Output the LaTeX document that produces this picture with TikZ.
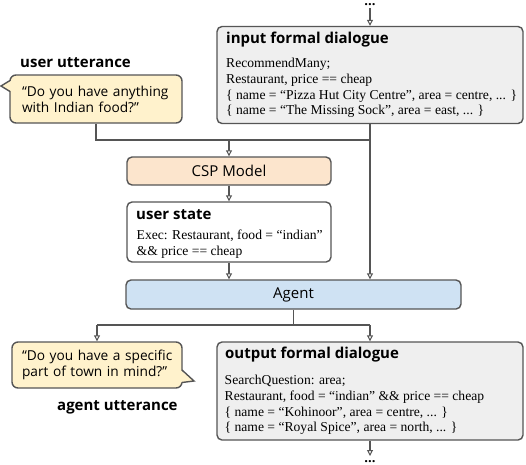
\documentclass[tikz,border=0pt]{standalone}
\usepackage{fontspec}
\setmainfont{Liberation Serif}
\newfontfamily\osans{Open Sans}
\usetikzlibrary{arrows.meta}
\definecolor{bord}{HTML}{555555}
\definecolor{fgray}{HTML}{EFEFEF}
\definecolor{bubfill}{HTML}{FFF2CC}
\definecolor{cspfill}{HTML}{FCE5CD}
\definecolor{agfill}{HTML}{CFE2F3}
\begin{document}
\begin{tikzpicture}[x=1pt,y=-1pt,
  box/.style={draw=bord, line width=1.4pt, rounded corners=5pt, inner sep=0pt},
  formal/.style={box, fill=fgray},
  plainbox/.style={box, fill=white},
  model/.style={box, font=\osans\fontsize{15}{18}\selectfont},
  bubble/.style={draw=bord, fill=bubfill, line width=1.4pt, rounded corners=6pt,
     inner ysep=0pt, align=left, font=\osans\fontsize{13.7}{16.2}\selectfont},
  head/.style={font=\osans\bfseries\fontsize{15}{18}\selectfont, anchor=west, inner sep=0pt},
  body/.style={font=\fontsize{13.6}{15.7}\selectfont, align=left, anchor=north west, inner sep=0pt},
  ln/.style={draw=bord, line width=1.4pt},
  arr/.style={ln, -{Triangle[length=6pt, width=6pt, fill=white, line width=1pt]}},
  dots/.style={font=\osans\bfseries\fontsize{13}{15}\selectfont, inner sep=0pt, anchor=base},
]
\useasboundingbox (0,0) rectangle (526,464);

% input formal dialogue
\node[formal, minimum width=306pt, minimum height=97pt] (in) at (370,75) {};
\node[head] (inh) at (226,40) {input formal dialogue};
\node[body] (inb) at (226,58) {RecommendMany;\\Restaurant, price == cheap\\
  \{ name = “Pizza Hut City Centre”, area = centre, ... \}\\
  \{ name = “The Missing Sock”, area = east, ... \}};
\node[dots] (dtop) at (370,5.2) {...};
\coordinate (t0) at (370,8);

% user utterance
\node[head] (ulab) at (20,63) {user utterance};
\node[bubble, text width=148pt, inner xsep=12pt, minimum height=48pt] (ub) at (96,99)
  {\mbox{“Do you have anything}\\\mbox{with Indian food?”}};
\fill[bubfill] (11.6,80.5) -- (1,86) -- (11.6,91.5) -- cycle;
\draw[ln, line join=miter] (10,80.5) -- (1,86) -- (10,91.5);

% CSP model and user state
\node[model, fill=cspfill, minimum width=204pt, minimum height=28pt] (csp) at (229,171) {CSP Model};
\node[plainbox, minimum width=204pt, minimum height=60pt] (us) at (229,232) {};
\node[head] (ush) at (136,215) {user state};
\node[body] (usb) at (136.5,229.7) {Exec: Restaurant, food = “indian”\\\&\& price == cheap};

% agent
\node[model, fill=agfill, minimum width=335pt, minimum height=29pt] (ag) at (293.5,294.5) {Agent};

% output formal dialogue
\node[formal, minimum width=306pt, minimum height=98pt] (out) at (370,391) {};
\node[head] (outh) at (225,355) {output formal dialogue};
\node[body] (outb) at (224.5,375) {SearchQuestion: area;\\Restaurant, food = “indian” \&\& price == cheap\\
  \{ name = “Kohinoor”, area = centre, ... \}\\
  \{ name = “Royal Spice”, area = north, ... \}};
\coordinate (b0) at (370,456);
\node[dots] (dbot) at (370,462.8) {...};

% agent utterance
\node[bubble, text width=150pt, inner xsep=10pt, minimum height=46pt] (ab) at (97,365)
  {\mbox{“Do you have a specific}\\\mbox{part of town in mind?”}};
\fill[bubfill] (180.4,370) -- (194,381) -- (180.4,382.5) -- cycle;
\draw[ln, line join=miter] (182,370) -- (194,381) -- (182,382.5);
\node[head] (alab) at (57,407) {agent utterance};

% connectors
\coordinate (j1) at (370,140);
\coordinate (j2) at (229,140);
\coordinate (j3) at (293.5,325);
\draw[arr] (t0) -- (in.north);
\draw[ln] (ub.south) |- (j1);
\draw[arr] (in.south) -- (in.south |- ag.north);
\draw[arr] (j2) -- (csp.north);
\draw[arr] (csp.south) -- (us.north);
\draw[arr] (us.south) -- (us.south |- ag.north);
\draw[ln] (ag.south) -- (j3);
\draw[ln] (ab.north |- j3) -- (out.north |- j3);
\draw[arr] (ab.north |- j3) -- (ab.north);
\draw[arr] (out.north |- j3) -- (out.north);
\draw[arr] (out.south) -- (b0);
\end{tikzpicture}
\end{document}
